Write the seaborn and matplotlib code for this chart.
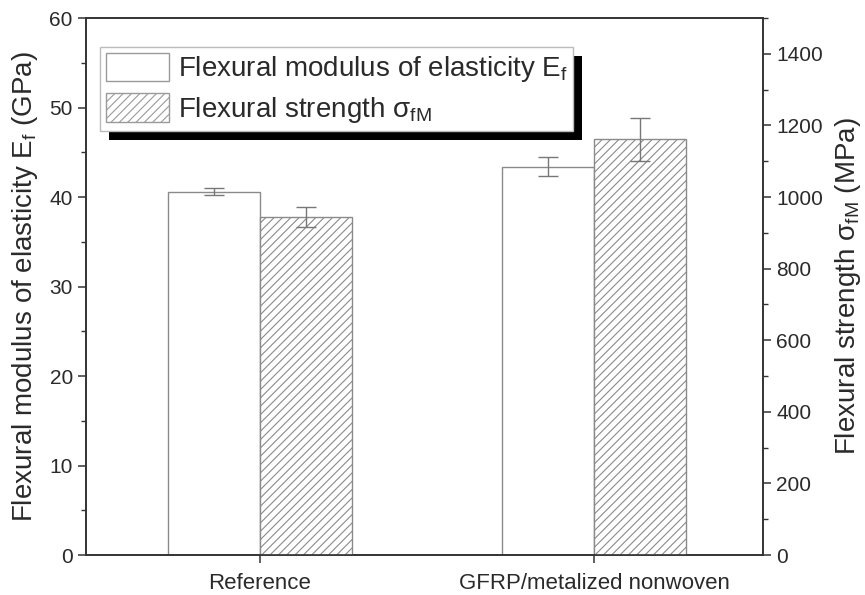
import matplotlib
matplotlib.use("Agg")
import matplotlib.pyplot as plt
from matplotlib.patches import Patch, Rectangle
from matplotlib.ticker import MultipleLocator
import numpy as np
import pandas as pd
import seaborn as sns

# Data
categories = ["Reference", "GFRP/metalized nonwoven"]
modulus_gpa = [40.6, 43.4]          # flexural modulus E_f (GPa)
modulus_err = [0.4, 1.1]
strength_mpa = [944, 1162]          # flexural strength sigma_fM (MPa)
strength_err = [28, 60]

label_mod = "Flexural modulus of elasticity E$_{\\mathregular{f}}$"
label_str = "Flexural strength σ$_{\\mathregular{fM}}$"
hue_levels = ["E", "S"]

sns.set_theme(style="white")
plt.rcParams["font.family"] = ["Liberation Sans", "DejaVu Sans"]
plt.rcParams["mathtext.fontset"] = "custom"
plt.rcParams["mathtext.rm"] = "Liberation Sans"
plt.rcParams["mathtext.default"] = "regular"
plt.rcParams["hatch.linewidth"] = 0.8
plt.rcParams["hatch.color"] = "#9a9a9a"

text_c = "#2a2a2a"
edge_c = "#8a8a8a"

df_mod = pd.DataFrame({"cat": categories, "val": modulus_gpa, "series": "E"})
df_str = pd.DataFrame({"cat": categories, "val": strength_mpa, "series": "S"})

fig = plt.figure(figsize=(8.65, 5.95), dpi=100)
ax = fig.add_axes([0.0994, 0.0672, 0.7827, 0.9025])
ax2 = ax.twinx()

sns.barplot(data=df_mod, x="cat", y="val", hue="series", hue_order=hue_levels,
            order=categories, palette={"E": "white", "S": "white"},
            width=0.55, gap=0, dodge=True, errorbar=None, legend=False,
            edgecolor=edge_c, linewidth=1.0, ax=ax)
sns.barplot(data=df_str, x="cat", y="val", hue="series", hue_order=hue_levels,
            order=categories, palette={"E": "white", "S": "white"},
            width=0.55, gap=0, dodge=True, errorbar=None, legend=False,
            edgecolor=edge_c, linewidth=1.0, ax=ax2)

for p in ax2.patches:
    p.set_hatch("////")

# error bars at the bar centres
for axis, vals, errs in ((ax, modulus_gpa, modulus_err), (ax2, strength_mpa, strength_err)):
    bars = [p for p in axis.patches if p.get_height() > 0]
    bars.sort(key=lambda p: p.get_x())
    xs = [p.get_x() + p.get_width() / 2 for p in bars]
    axis.errorbar(xs, vals, yerr=errs, fmt="none", ecolor="#777777",
                  elinewidth=1.0, capsize=7, capthick=1.0, zorder=5)

ax.set_xlim(-0.52, 1.505)
ax.set_ylim(0, 60)
ax2.set_ylim(0, 1500)

ax.yaxis.set_major_locator(MultipleLocator(10))
ax.yaxis.set_minor_locator(MultipleLocator(5))
ax2.set_yticks(np.arange(0, 1401, 200))
ax2.yaxis.set_minor_locator(MultipleLocator(100))

for a in (ax, ax2):
    for s in a.spines.values():
        s.set_color("#333333")
        s.set_linewidth(1.2)
    a.tick_params(which="major", length=6, width=1.1, color="#333333",
                  labelsize=15, labelcolor=text_c, direction="out")
    a.tick_params(which="minor", length=3.5, width=1.0, color="#333333",
                  direction="out")

ax.tick_params(axis="y", which="both", left=True, right=False)
ax.tick_params(axis="x", bottom=True, labelsize=16, pad=7)
ax2.tick_params(axis="y", which="both", right=True, left=False)

ax.set_xlabel("")
ax.set_ylabel("Flexural modulus of elasticity E$_{\\mathregular{f}}$ (GPa)",
              fontsize=20, color=text_c, labelpad=7)
ax2.set_ylabel("Flexural strength σ$_{\\mathregular{fM}}$ (MPa)",
               fontsize=20, color=text_c, labelpad=7)

handles = [Patch(facecolor="white", edgecolor="#9a9a9a", linewidth=1.0, label=label_mod),
           Patch(facecolor="white", edgecolor="#9a9a9a", linewidth=1.0, hatch="////",
                 label=label_str)]
leg = ax2.legend(handles=handles, loc="upper left", bbox_to_anchor=(0.0207, 0.946),
                 fontsize=20, frameon=True, fancybox=False, framealpha=1,
                 edgecolor="#bbbbbb", handlelength=2.3, handleheight=1.2,
                 handletextpad=0.3, labelspacing=0.33, borderpad=0.2,
                 borderaxespad=0)
leg.get_frame().set_linewidth(1.0)
for t in leg.get_texts():
    t.set_color(text_c)
leg.set_zorder(10)

# drop shadow behind the legend box
fig.canvas.draw()
bb = leg.get_window_extent().transformed(ax2.transAxes.inverted())
dx = 9 / (ax2.bbox.width)
dy = 9 / (ax2.bbox.height)
ax2.add_patch(Rectangle((bb.x0 + dx, bb.y0 - dy), bb.width, bb.height,
                        transform=ax2.transAxes, facecolor="black",
                        edgecolor="none", zorder=9, clip_on=False))

fig.savefig("out.png", dpi=100)
